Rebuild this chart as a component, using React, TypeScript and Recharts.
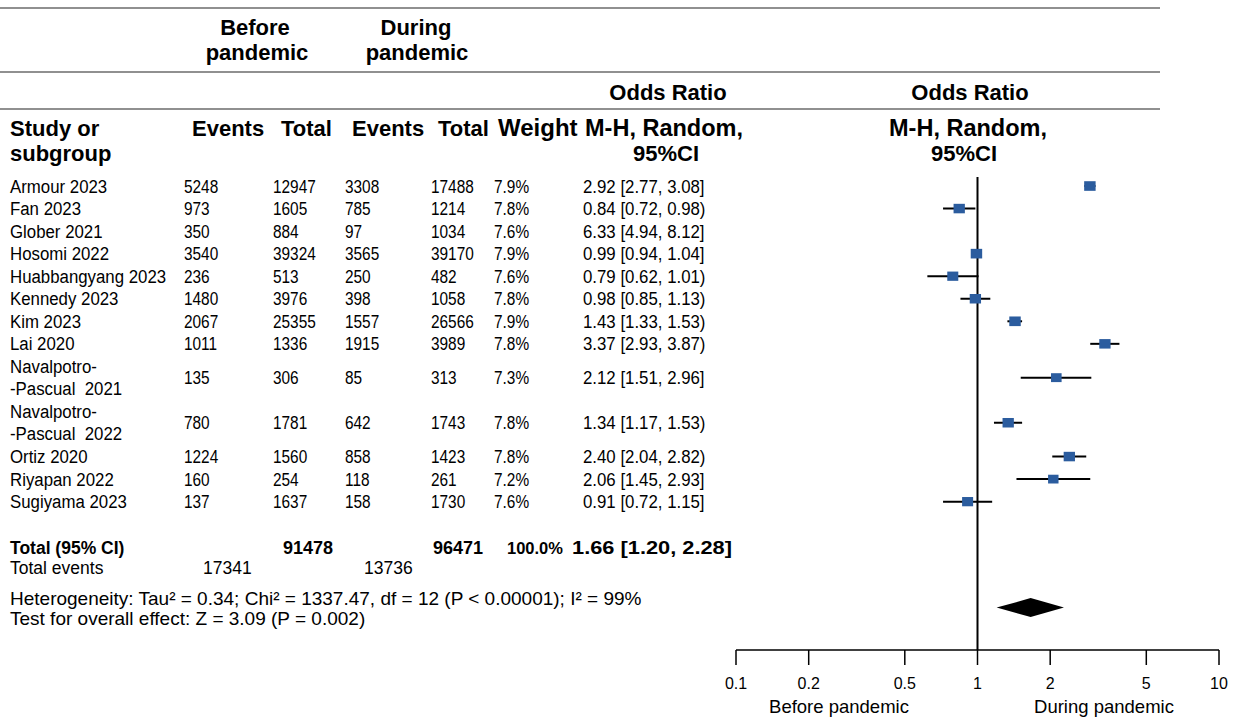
import React from 'react';
import { ComposedChart, Scatter, XAxis, YAxis, ReferenceLine, ErrorBar } from 'recharts';

// ---------------- data ----------------
const studies = [
  'Armour 2023',
  'Fan 2023',
  'Glober 2021',
  'Hosomi 2022',
  'Huabbangyang 2023',
  'Kennedy 2023',
  'Kim 2023',
  'Lai 2020',
  'Navalpotro-\n-Pascual  2021',
  'Navalpotro-\n-Pascual  2022',
  'Ortiz 2020',
  'Riyapan 2022',
  'Sugiyama 2023',
];
const eventsBefore = [5248, 973, 350, 3540, 236, 1480, 2067, 1011, 135, 780, 1224, 160, 137];
const totalBefore = [12947, 1605, 884, 39324, 513, 3976, 25355, 1336, 306, 1781, 1560, 254, 1637];
const eventsDuring = [3308, 785, 97, 3565, 250, 398, 1557, 1915, 85, 642, 858, 118, 158];
const totalDuring = [17488, 1214, 1034, 39170, 482, 1058, 26566, 3989, 313, 1743, 1423, 261, 1730];
const weights = [7.9, 7.8, 7.6, 7.9, 7.6, 7.8, 7.9, 7.8, 7.3, 7.8, 7.8, 7.2, 7.6];
const oddsRatio = [2.92, 0.84, 6.33, 0.99, 0.79, 0.98, 1.43, 3.37, 2.12, 1.34, 2.4, 2.06, 0.91];
const ciLow = [2.77, 0.72, 4.94, 0.94, 0.62, 0.85, 1.33, 2.93, 1.51, 1.17, 2.04, 1.45, 0.72];
const ciHigh = [3.08, 0.98, 8.12, 1.04, 1.01, 1.13, 1.53, 3.87, 2.96, 1.53, 2.82, 2.93, 1.15];
const ciCloser = [']', ')', ']', ']', ')', ')', ')', ')', ']', ')', ')', ']', ']'];
// Glober 2021 has no marker drawn in the source figure
const drawnInPlot = [true, true, false, true, true, true, true, true, true, true, true, true, true];

const pooledOR = 1.66;
const pooledLow = 1.2;
const pooledHigh = 2.28;
const totalWeight = '100.0%';

const xTicks = [0.1, 0.2, 0.5, 1, 2, 5, 10];
const heterogeneityText = 'Heterogeneity: Tau\u00b2 = 0.34; Chi\u00b2 = 1337.47, df = 12 (P < 0.00001); I\u00b2 = 99%';
const overallText = 'Test for overall effect: Z = 3.09 (P = 0.002)';

// ---------------- layout / style ----------------
const FONT = "'Liberation Sans', Arial, Helvetica, sans-serif";
const BLUE = '#2B5C9E';
const RULE = '#6b6b6b';
const COL = { name: 10, evB: 184, totB: 273, evD: 345, totD: 431, weight: 494, or: 583 };
const DIAMOND_ROW = 18.7;
const BODY = 19;
const NAME_SX = 0.885;
const NUM_SX = 0.81;

const sum = (a: number[]) => a.reduce((s, v) => s + v, 0);
const fmt = (v: number) => v.toFixed(2);

let acc = 0;
const rows = studies.map((name, i) => {
  const lines = name.split('\n').length;
  const row = acc + lines / 2 - 0.5;
  acc += lines;
  return {
    name,
    row,
    or: oddsRatio[i],
    ci: [oddsRatio[i] - ciLow[i], ciHigh[i] - oddsRatio[i]],
    evB: eventsBefore[i],
    totB: totalBefore[i],
    evD: eventsDuring[i],
    totD: totalDuring[i],
    weight: weights[i],
    orText: `${fmt(oddsRatio[i])} [${fmt(ciLow[i])}, ${fmt(ciHigh[i])}${ciCloser[i]}`,
    drawn: drawnInPlot[i],
  };
});
const plotted = rows.filter((r) => r.drawn);
const summary = [
  { or: pooledLow, row: DIAMOND_ROW },
  { or: pooledOR, row: DIAMOND_ROW },
  { or: pooledHigh, row: DIAMOND_ROW },
];

const NText = ({ x, y, sx, size, children, ...rest }: any) => (
  <text
    transform={`translate(${x},${y}) scale(${sx},1)`}
    fontSize={size}
    fontFamily={FONT}
    fill="#000"
    style={{ whiteSpace: 'pre' }}
    {...rest}
  >
    {children}
  </text>
);

const TableRow = (props: any) => {
  const { cy, payload } = props;
  const lines: string[] = payload.name.split('\n');
  const base = cy + 6.5;
  return (
    <g>
      {lines.map((l, k) => (
        <NText key={k} x={COL.name} y={base + (k - (lines.length - 1) / 2) * 22} sx={NAME_SX} size={BODY}>
          {l}
        </NText>
      ))}
      <NText x={COL.evB} y={base} sx={NUM_SX} size={BODY}>{payload.evB}</NText>
      <NText x={COL.totB} y={base} sx={NUM_SX} size={BODY}>{payload.totB}</NText>
      <NText x={COL.evD} y={base} sx={NUM_SX} size={BODY}>{payload.evD}</NText>
      <NText x={COL.totD} y={base} sx={NUM_SX} size={BODY}>{payload.totD}</NText>
      <NText x={COL.weight} y={base} sx={NUM_SX} size={BODY}>{payload.weight.toFixed(1)}%</NText>
      <NText x={COL.or} y={base} sx={NAME_SX} size={BODY}>{payload.orText}</NText>
    </g>
  );
};

const Marker = (props: any) => {
  const { cx, cy, payload } = props;
  const s = payload.weight * 1.45;
  return <rect x={cx - s / 2} y={cy - s * 0.42} width={s} height={s * 0.84} fill={BLUE} />;
};

const Hidden = () => <g />;

const DiamondLine = (props: any) => {
  const pts = props.points as { x: number; y: number }[];
  if (!pts || pts.length < 3) return <g />;
  const [l, c, r] = pts;
  const h = 9.5;
  return <polygon points={`${l.x},${l.y} ${c.x},${c.y - h} ${r.x},${r.y} ${c.x},${c.y + h}`} fill="#000" stroke="none" />;
};

const T = (p: any) => <text fontFamily={FONT} fill="#000" {...p} />;

export default function App() {
  return (
    <div style={{ position: 'absolute', left: 0, top: 0, width: 1241, height: 727, background: '#fff' }}>
      <ComposedChart width={1241} height={727} margin={{ top: 177, right: 22, bottom: 27, left: 736 }}>
        <XAxis
          type="number"
          dataKey="or"
          scale="log"
          domain={[0.1, 10]}
          ticks={xTicks}
          interval={0}
          tickFormatter={(v: number) => String(v)}
          height={50}
          tickSize={15}
          tickMargin={13}
          axisLine={{ stroke: '#000', strokeWidth: 1.5 }}
          tickLine={{ stroke: '#000', strokeWidth: 1.5 }}
          tick={{ fill: '#000', fontSize: 16, fontFamily: FONT }}
        />
        <YAxis type="number" dataKey="row" domain={[-0.4, 20.58]} reversed hide />
        <ReferenceLine x={1} stroke="#000" strokeWidth={2} />
        <Scatter data={rows} shape={TableRow} isAnimationActive={false} />
        <Scatter data={plotted} shape={Marker} fill={BLUE} isAnimationActive={false}>
          <ErrorBar dataKey="ci" direction="x" width={0} stroke="#000" strokeWidth={2} />
        </Scatter>
        <Scatter data={summary} shape={Hidden} line={DiamondLine} isAnimationActive={false} />
      </ComposedChart>
      <svg width={1241} height={727} style={{ position: 'absolute', left: 0, top: 0, pointerEvents: 'none' }}>
        <line x1={0} x2={1160} y1={8} y2={8} stroke={RULE} strokeWidth={1.5} />
        <line x1={0} x2={1160} y1={72} y2={72} stroke={RULE} strokeWidth={1.5} />
        <line x1={0} x2={1160} y1={109} y2={109} stroke={RULE} strokeWidth={1.5} />
        <g fontWeight="bold" fontSize={22}>
          <T x={255} y={35} textAnchor="middle">Before</T>
          <T x={257} y={60} textAnchor="middle">pandemic</T>
          <T x={416} y={35} textAnchor="middle">During</T>
          <T x={417} y={60} textAnchor="middle">pandemic</T>
          <T x={668} y={100} textAnchor="middle">Odds Ratio</T>
          <T x={970} y={100} textAnchor="middle">Odds Ratio</T>
          <T x={10} y={136}>Study or</T>
          <T x={10} y={161}>subgroup</T>
          <T x={192} y={136}>Events</T>
          <T x={281} y={136}>Total</T>
          <T x={352} y={136}>Events</T>
          <T x={438} y={136}>Total</T>
          <T x={498} y={136} fontSize={24}>Weight</T>
          <T x={664} y={136} fontSize={23.5} textAnchor="middle">M-H, Random,</T>
          <T x={666} y={161} textAnchor="middle">95%CI</T>
          <T x={968} y={136} fontSize={23.5} textAnchor="middle">M-H, Random,</T>
          <T x={964} y={161} textAnchor="middle">95%CI</T>
        </g>
        <g fontSize={18}>
          <T x={10} y={554} fontWeight="bold" fontSize={17.5}>Total (95% CI)</T>
          <T x={283} y={554} fontWeight="bold">{sum(totalBefore)}</T>
          <T x={433} y={554} fontWeight="bold">{sum(totalDuring)}</T>
          <T x={507} y={554} fontWeight="bold" fontSize={16.5}>{totalWeight}</T>
          <T x={572} y={554} fontWeight="bold" textLength={160} lengthAdjust="spacingAndGlyphs">
            {`${fmt(pooledOR)} [${fmt(pooledLow)}, ${fmt(pooledHigh)}]`}
          </T>
          <T x={10} y={574} fontSize={17.5}>Total events</T>
          <T x={203} y={574} fontSize={17.5}>{sum(eventsBefore)}</T>
          <T x={364} y={574} fontSize={17.5}>{sum(eventsDuring)}</T>
          <T x={10} y={605} fontSize={19}>{heterogeneityText}</T>
          <T x={10} y={625} fontSize={19}>{overallText}</T>
          <T x={839} y={713} fontSize={18.5} textAnchor="middle">Before pandemic</T>
          <T x={1104} y={713} fontSize={18.5} textAnchor="middle">During pandemic</T>
        </g>
      </svg>
    </div>
  );
}
